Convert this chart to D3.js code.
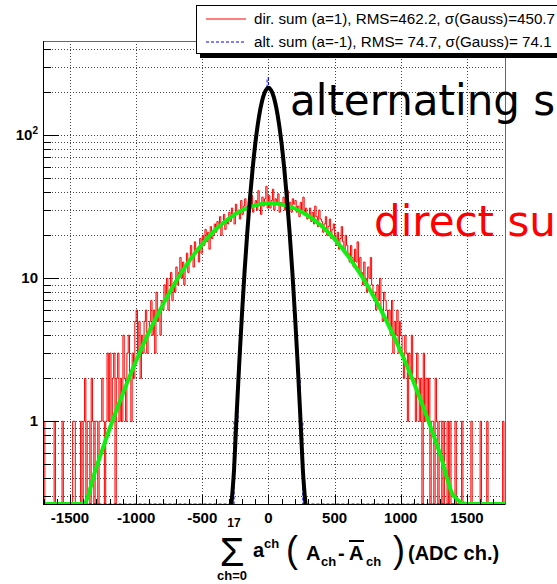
<!DOCTYPE html>
<html>
<head>
<meta charset="utf-8">
<script src="https://cdn.jsdelivr.net/npm/d3@7"></script>
<style>
body {margin: 0; background: #fff;}
svg {display: block; font-family: "Liberation Sans", Arial, Helvetica, sans-serif;}
</style>
</head>
<body>
<div id="vis"></div>
<script>
// declare constants
const FRAME_WIDTH = 557;
const FRAME_HEIGHT = 584;
const PLOT = {left: 43, right: 505, top: 41, bottom: 504};

const X_DOMAIN = [-1704, 1788];
const Y_DOMAIN = [0.264, 457];
const X_TICKS = [-1500, -1000, -500, 0, 500, 1000, 1500];
const X_TICK_LABELS = ["-1500", "-1000", "-500", "0", "500", "1000", "1500"];
const Y_TICKS = [1, 10, 100];
const Y_TICK_LABELS = [["1", ""], ["10", ""], ["10", "2"]];

// histograms (bin width 10, counts per bin)
const BIN_WIDTH = 10;
const DIR_START = -1700;
const DIR_COUNTS = [
	1,0,0,0,0,0,0,0,1,0,
	0,0,0,0,1,0,0,0,0,0,
	0,0,1,1,0,0,0,0,1,0,
	1,2,0,1,1,0,2,1,0,1,
	1,0,1,1,2,1,0,1,3,1,
	3,1,2,3,0,2,3,1,2,1,
	4,2,1,3,4,2,1,3,2,5,
	6,3,5,2,4,3,5,6,3,4,
	5,7,4,6,3,8,5,6,4,7,
	6,9,7,10,6,8,11,7,9,8,
	12,9,11,14,10,13,9,12,15,11,
	13,17,14,12,18,15,16,13,19,15,
	20,17,22,18,21,16,23,19,20,24,
	21,25,23,27,20,24,28,22,26,24,
	29,25,31,27,24,33,28,30,26,35,
	28,32,36,30,27,34,31,38,29,33,
	35,30,41,33,28,37,32,36,44,31,
	38,31,35,42,30,36,33,39,29,34,
	32,37,30,35,41,31,34,29,36,33,
	35,29,32,27,34,30,37,28,31,26,
	28,31,25,29,24,32,27,23,30,26,
	25,21,24,27,20,23,26,19,22,24,
	20,17,21,16,19,23,18,15,20,17,
	15,13,17,14,12,16,13,18,11,14,
	11,9,13,10,8,12,10,14,9,8,
	8,6,9,7,10,6,5,8,7,6,
	5,6,4,7,3,5,4,6,3,5,
	4,3,2,4,3,1,3,2,4,2,
	2,1,3,2,1,2,0,3,1,2,
	1,2,0,1,1,0,2,1,0,1,
	1,0,1,0,0,1,0,1,0,0,
	0,1,0,0,0,0,1,0,0,0,
	0,0,0,1,0,0,0,0,0,0,
	1,0,0,0,0,1,0,0,0,0,
	0,0,0,0,0,0,0,1,0,0
];
const ALT_START = -300;
const ALT_COUNTS = [
	0,0,0,0,1,1,1,2,3,5,
	7,10,13,19,23,33,42,50,66,77,
	95,109,131,144,165,176,196,201,214,252,
	218,208,206,190,181,160,148,125,113,92,
	80,62,53,40,31,25,17,14,9,7,
	4,3,2,2,1,1,0,0,0,0
];

// gaussian fits
const FIT_DIR_X = [-1700,-1600,-1500,-1400,-1300,-1200,-1100,-1000,-900,-800,-700,-600,-500,-400,-300,-200,-100,
	0,100,200,300,400,500,600,700,800,900,1000,1100,1200,1300,1400,1500,1600,1700,1800];
const FIT_DIR_Y = [0.02,0.05,0.12,0.24,0.48,0.89,1.57,2.65,4.27,6.5,9.5,13.2,17.4,21.9,26.2,29.9,32.4,
	33.5,32.9,30.8,27.4,23.3,18.8,14.4,10.5,7.35,4.87,3.08,1.85,1.06,0.58,0.3,0.15,0.07,0.03,0.013];
const FIT_ALT_X = [-280,-260,-240,-220,-200,-180,-160,-140,-120,-100,-80,-60,-40,-20,
	0,20,40,60,80,100,120,140,160,180,200,220,240,260,280];
const FIT_ALT_Y = [0.17,0.46,1.13,2.62,5.63,11.3,20.9,36.1,57.9,86.5,120,155,186,207,
	215,207,186,155,120,86.5,57.9,36.1,20.9,11.3,5.63,2.62,1.13,0.46,0.17];

const LEGEND_ROWS = [
	"dir. sum (a=1), RMS=462.2, \u03c3(Gauss)=450.7",
	"alt. sum (a=-1), RMS= 74.7, \u03c3(Gauss)= 74.1"
];

// frame
const FRAME1 = d3.select("#vis")
	.append("svg")
		.attr("width", FRAME_WIDTH)
		.attr("height", FRAME_HEIGHT);

FRAME1.append("rect")
		.attr("width", FRAME_WIDTH)
		.attr("height", FRAME_HEIGHT)
		.attr("fill", "#fff");

// scaling
const X_SCALE = d3.scaleLinear()
					.domain(X_DOMAIN)
					.range([PLOT.left, PLOT.right]);
const Y_SCALE = d3.scaleLog()
					.domain(Y_DOMAIN)
					.range([PLOT.bottom, PLOT.top]);

const yc = (v) => Y_SCALE(Math.max(v, Y_DOMAIN[0]));

FRAME1.append("clipPath")
		.attr("id", "clip")
	.append("rect")
		.attr("x", PLOT.left)
		.attr("y", PLOT.top)
		.attr("width", PLOT.right - PLOT.left)
		.attr("height", PLOT.bottom - PLOT.top);

// grid
const Y_GRID = Y_SCALE.ticks();
FRAME1.append("g")
	.selectAll("line")
	.data(Y_GRID)
	.enter()
	.append("line")
		.attr("x1", PLOT.left)
		.attr("x2", PLOT.right)
		.attr("y1", (d) => Math.round(Y_SCALE(d)) + 0.5)
		.attr("y2", (d) => Math.round(Y_SCALE(d)) + 0.5)
		.attr("stroke", "#444")
		.attr("stroke-dasharray", "1,2");

FRAME1.append("g")
	.selectAll("line")
	.data(X_TICKS)
	.enter()
	.append("line")
		.attr("x1", (d) => Math.round(X_SCALE(d)) + 0.5)
		.attr("x2", (d) => Math.round(X_SCALE(d)) + 0.5)
		.attr("y1", PLOT.top)
		.attr("y2", PLOT.bottom)
		.attr("stroke", "#444")
		.attr("stroke-dasharray", "1,2");

// histograms
function histPath(start, counts) {
	let p = "";
	counts.forEach((c, i) => {
		const x0 = X_SCALE(start + i * BIN_WIDTH);
		const x1 = X_SCALE(start + (i + 1) * BIN_WIDTH);
		p += (i === 0 ? "M" : "L") + x0 + "," + yc(c) + "L" + x1 + "," + yc(c);
	});
	return p;
}

const PLOTTED = FRAME1.append("g").attr("clip-path", "url(#clip)");

PLOTTED.append("path")
		.attr("d", histPath(DIR_START, DIR_COUNTS))
		.attr("fill", "none")
		.attr("stroke", "#ff0000")
		.attr("stroke-width", 1);

const ALT_OFFSET = (ALT_START - DIR_START) / BIN_WIDTH;
const ALT_FULL = DIR_COUNTS.map((d, i) => ALT_COUNTS[i - ALT_OFFSET] || 0);

PLOTTED.append("path")
		.attr("d", histPath(DIR_START, ALT_FULL))
		.attr("fill", "none")
		.attr("stroke", "#0000ff")
		.attr("stroke-width", 1)
		.attr("stroke-dasharray", "3,2");

// fits
const FIT_LINE = d3.line()
	.x((d) => X_SCALE(d[0]))
	.y((d) => yc(d[1]))
	.curve(d3.curveMonotoneX);

PLOTTED.append("path")
		.attr("d", FIT_LINE(d3.zip(FIT_DIR_X, FIT_DIR_Y)))
		.attr("fill", "none")
		.attr("stroke", "#11ee11")
		.attr("stroke-width", 4);

PLOTTED.append("path")
		.attr("d", FIT_LINE(d3.zip(FIT_ALT_X, FIT_ALT_Y)))
		.attr("fill", "none")
		.attr("stroke", "#000")
		.attr("stroke-width", 4);

// frame lines
FRAME1.append("rect")
		.attr("x", PLOT.left + 0.5)
		.attr("y", PLOT.top + 0.5)
		.attr("width", PLOT.right - PLOT.left)
		.attr("height", PLOT.bottom - PLOT.top)
		.attr("fill", "none")
		.attr("stroke", "#666");
FRAME1.append("line")
		.attr("x1", PLOT.left + 0.5).attr("x2", PLOT.left + 0.5)
		.attr("y1", PLOT.top).attr("y2", PLOT.bottom + 1)
		.attr("stroke", "#000");
FRAME1.append("line")
		.attr("x1", PLOT.left).attr("x2", PLOT.right)
		.attr("y1", PLOT.bottom + 0.5).attr("y2", PLOT.bottom + 0.5)
		.attr("stroke", "#000");

// x ticks
const X_MINOR = d3.range(-1700, 1800, 100);
FRAME1.append("g")
	.selectAll("line")
	.data(X_MINOR)
	.enter()
	.append("line")
		.attr("x1", (d) => Math.round(X_SCALE(d)) + 0.5)
		.attr("x2", (d) => Math.round(X_SCALE(d)) + 0.5)
		.attr("y1", PLOT.bottom)
		.attr("y2", (d) => PLOT.bottom - (d % 500 === 0 ? 9 : 5))
		.attr("stroke", "#000");

FRAME1.append("g")
	.selectAll("text")
	.data(X_TICKS)
	.enter()
	.append("text")
		.attr("x", (d) => X_SCALE(d))
		.attr("y", 523)
		.attr("text-anchor", "middle")
		.attr("font-weight", "bold")
		.attr("font-size", "15px")
		.text((d, i) => X_TICK_LABELS[i]);

// y ticks
FRAME1.append("g")
	.selectAll("line")
	.data(Y_GRID)
	.enter()
	.append("line")
		.attr("x1", PLOT.left)
		.attr("x2", (d) => PLOT.left + (Y_TICKS.includes(d) ? 16 : 8))
		.attr("y1", (d) => Math.round(Y_SCALE(d)) + 0.5)
		.attr("y2", (d) => Math.round(Y_SCALE(d)) + 0.5)
		.attr("stroke", "#000");

const Y_LAB = FRAME1.append("g")
	.selectAll("text")
	.data(Y_TICKS)
	.enter()
	.append("text")
		.attr("x", 38)
		.attr("y", (d) => Y_SCALE(d) + 5)
		.attr("text-anchor", "end")
		.attr("font-weight", "bold")
		.attr("font-size", "15px");
Y_LAB.append("tspan").text((d, i) => Y_TICK_LABELS[i][0]);
Y_LAB.append("tspan")
		.attr("dy", -6)
		.attr("font-size", "10px")
		.text((d, i) => Y_TICK_LABELS[i][1]);

// x axis title
const TITLE = FRAME1.append("g").attr("font-weight", "bold");
TITLE.append("text")
		.attr("x", 232).attr("y", 566)
		.attr("text-anchor", "middle")
		.attr("font-weight", "normal")
		.attr("font-size", "40px")
		.text("\u03a3");
TITLE.append("text")
		.attr("x", 234).attr("y", 527)
		.attr("text-anchor", "middle")
		.attr("font-size", "12px")
		.text("17");
TITLE.append("text")
		.attr("x", 232).attr("y", 580)
		.attr("text-anchor", "middle")
		.attr("font-size", "13px")
		.text("ch=0");
TITLE.append("text")
		.attr("x", 253).attr("y", 557)
		.attr("font-size", "20px")
		.text("a");
TITLE.append("text")
		.attr("x", 264).attr("y", 548)
		.attr("font-size", "13px")
		.text("ch");
TITLE.append("text")
		.attr("x", 286).attr("y", 562)
		.attr("font-weight", "normal")
		.attr("font-size", "36px")
		.text("(");
TITLE.append("text")
		.attr("x", 306).attr("y", 560)
		.attr("font-size", "20px")
		.text("A");
TITLE.append("text")
		.attr("x", 321).attr("y", 566)
		.attr("font-size", "13px")
		.text("ch");
TITLE.append("text")
		.attr("x", 338).attr("y", 560)
		.attr("font-size", "20px")
		.text("-");
TITLE.append("text")
		.attr("x", 349).attr("y", 560)
		.attr("font-size", "20px")
		.text("A");
TITLE.append("line")
		.attr("x1", 349).attr("x2", 364)
		.attr("y1", 541).attr("y2", 541)
		.attr("stroke", "#000")
		.attr("stroke-width", 2);
TITLE.append("text")
		.attr("x", 366).attr("y", 566)
		.attr("font-size", "13px")
		.text("ch");
TITLE.append("text")
		.attr("x", 393).attr("y", 562)
		.attr("font-weight", "normal")
		.attr("font-size", "36px")
		.text(")");
TITLE.append("text")
		.attr("x", 408).attr("y", 560)
		.attr("font-size", "20px")
		.text("(ADC ch.)");

// annotations
FRAME1.append("text")
		.attr("x", 290).attr("y", 115)
		.attr("font-family", "DejaVu Sans")
		.attr("font-size", "42px")
		.attr("fill", "#000")
		.text("alternating sum");
FRAME1.append("text")
		.attr("x", 374).attr("y", 236)
		.attr("font-family", "DejaVu Sans")
		.attr("font-size", "42px")
		.attr("fill", "#ff0000")
		.text("direct sum");

// legend
const LEG = FRAME1.append("g");
LEG.append("rect")
		.attr("x", 200).attr("y", 9)
		.attr("width", 400).attr("height", 49)
		.attr("fill", "#000");
LEG.append("rect")
		.attr("x", 196.5).attr("y", 5.5)
		.attr("width", 400).attr("height", 48)
		.attr("fill", "#fff")
		.attr("stroke", "#000");
LEG.selectAll("line.sample")
	.data(LEGEND_ROWS)
	.enter()
	.append("line")
		.attr("x1", 206).attr("x2", 246)
		.attr("y1", (d, i) => 19 + 23 * i).attr("y2", (d, i) => 19 + 23 * i)
		.attr("stroke", (d, i) => i === 0 ? "#ff0000" : "#0000ff")
		.attr("stroke-dasharray", (d, i) => i === 0 ? null : "3,2");
LEG.selectAll("text")
	.data(LEGEND_ROWS)
	.enter()
	.append("text")
		.attr("x", 254)
		.attr("y", (d, i) => 24 + 23 * i)
		.attr("font-size", "15.2px")
		.text((d) => d);
</script>
</body>
</html>
